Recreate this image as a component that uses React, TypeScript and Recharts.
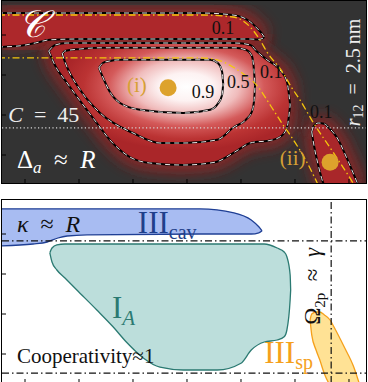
import React from "react";
import {
    ComposedChart,
    Area,
    Line,
    XAxis,
    YAxis,
    ReferenceLine,
    ReferenceDot,
} from "recharts";

const serif = "'Liberation Serif', 'DejaVu Serif', serif";

const xTicks = [0, 1, 2, 3, 4, 5, 6];
const yTicks = [0, 1, 2, 3];
const xDomain: [number, number] = [-0.426, 6.315];
const topDomain: [number, number] = [-0.7, 3.85];
const bottomDomain: [number, number] = [-0.725, 3.85];

// top panel: contour regions as [x, lower, upper]
const stripC = [
    [-0.5, 2.7, 3.55],
    [-0.09, 2.73, 3.55],
    [0.19, 2.8, 3.55],
    [0.46, 2.88, 3.55],
    [1.02, 2.9, 3.55],
    [3.24, 2.9, 3.55],
    [3.85, 2.9, 3.5],
    [4.17, 2.9, 3.33],
    [4.31, 2.89, 3.15],
    [4.39, 2.91, 3.03],
    [4.43, 2.95, 2.95],
];
const blob01 = [
    [0.44, 2.6, 2.6],
    [0.56, 2.23, 2.75],
    [0.78, 1.8, 2.8],
    [1.33, 0.8, 2.8],
    [1.57, 0.38, 2.8],
    [1.94, -0.05, 2.8],
    [2.31, -0.2, 2.8],
    [2.93, -0.25, 2.8],
    [3.52, -0.18, 2.8],
    [3.89, 0.08, 2.8],
    [4.17, 0.3, 2.75],
    [4.3, 0.33, 2.58],
    [4.48, 0.35, 2.38],
    [4.72, 0.45, 2.13],
    [4.85, 0.68, 1.83],
    [4.89, 1.0, 1.5],
    [4.91, 1.25, 1.25],
];
const blob05 = [
    [0.69, 2.53, 2.53],
    [0.74, 2.33, 2.6],
    [1.02, 1.63, 2.65],
    [1.39, 1.05, 2.68],
    [2.0, 0.55, 2.68],
    [2.5, 0.3, 2.68],
    [2.94, 0.3, 2.68],
    [3.56, 0.38, 2.68],
    [3.87, 0.7, 2.68],
    [4.09, 0.88, 2.63],
    [4.2, 1.08, 2.48],
    [4.24, 1.33, 2.13],
    [4.26, 1.73, 1.73],
];
const blob09 = [
    [1.37, 2.18, 2.18],
    [1.44, 1.95, 2.3],
    [1.57, 1.58, 2.35],
    [1.76, 1.3, 2.38],
    [2.13, 1.13, 2.38],
    [2.93, 1.05, 2.38],
    [3.43, 1.13, 2.38],
    [3.57, 1.28, 2.3],
    [3.65, 1.5, 2.08],
    [3.67, 1.78, 1.78],
];
const blobRight = [
    [5.31, 0.58, 0.58],
    [5.35, 0.25, 0.73],
    [5.43, -0.25, 0.8],
    [5.54, -0.75, 0.78],
    [5.65, -0.88, 0.65],
    [5.78, -0.88, 0.43],
    [5.96, -0.88, -0.08],
    [6.07, -0.88, -0.43],
    [6.17, -0.88, -0.75],
];
// yellow dash-dot guides [x, y]
const guideOuter = [
    [-0.5, 3.5], [3.24, 3.5], [3.85, 3.45], [4.17, 3.2], [4.35, 2.88], [4.48, 2.58],
    [4.78, 2.05], [4.94, 1.68], [5.09, 1.38], [5.33, 0.83], [5.7, 0.08], [6.02, -0.58], [6.13, -0.83],
];
const guideInner = [
    [-0.5, 2.43], [3.24, 2.43], [3.56, 2.38], [3.85, 2.2], [4.04, 2.03], [4.3, 1.73],
    [4.54, 1.25], [4.78, 0.75], [4.91, 0.5], [5.22, -0.18], [5.43, -0.75],
];
const dottedLevel = 0.68;

const contourLabels = [
    { x: 3.46, y: 3.03, t: "0.1" },
    { x: 3.09, y: 1.43, t: "0.9" },
    { x: 3.74, y: 1.68, t: "0.5" },
    { x: 4.35, y: 1.93, t: "0.1" },
    { x: 5.28, y: 0.93, t: "0.1" },
];
const markers = [
    { x: 2.65, y: 1.68, tag: "(i)", tx: 1.89, ty: 1.58 },
    { x: 5.65, y: -0.18, tag: "(ii)", tx: 4.72, ty: -0.25 },
];

// bottom panel: regions as [x, lower, upper]
const regionCav = [
    [-0.5, 2.7, 3.63],
    [0.15, 2.75, 3.63],
    [0.41, 2.8, 3.63],
    [0.61, 2.9, 3.63],
    [0.78, 2.95, 3.63],
    [1.15, 2.98, 3.63],
    [3.24, 3.0, 3.63],
    [3.87, 3.0, 3.53],
    [4.19, 3.0, 3.35],
    [4.33, 3.03, 3.18],
    [4.39, 3.08, 3.08],
];
const regionA = [
    [0.46, 2.53, 2.53],
    [0.5, 2.3, 2.65],
    [0.59, 2.1, 2.73],
    [0.74, 1.9, 2.75],
    [0.96, 1.6, 2.75],
    [1.33, 1.1, 2.75],
    [1.63, 0.68, 2.75],
    [1.89, 0.28, 2.75],
    [2.19, -0.1, 2.75],
    [2.5, -0.33, 2.75],
    [2.93, -0.4, 2.75],
    [3.56, -0.4, 2.75],
    [4.0, -0.23, 2.75],
    [4.19, 0.1, 2.75],
    [4.43, 0.3, 2.75],
    [4.67, 0.35, 2.65],
    [4.8, 0.43, 2.55],
    [4.85, 0.6, 2.43],
    [4.91, 1.35, 1.98],
    [4.92, 1.6, 1.6],
];
const regionSp = [
    [5.28, 0.85, 0.85],
    [5.31, 0.48, 1.0],
    [5.39, 0.1, 1.05],
    [5.46, -0.15, 1.05],
    [5.54, -0.48, 0.98],
    [5.65, -0.78, 0.85],
    [5.72, -0.9, 0.68],
    [5.91, -0.9, 0.18],
    [6.09, -0.9, -0.33],
    [6.2, -0.9, -0.78],
];
const cavLimit = 2.83;
const coopLimit = -0.48;
const omegaLimit = 5.67;

// text anchors (baseline start) in data units
const topText = {
    cal: [-0.13, 2.95],
    coupling: [-0.31, 0.83],
    detuning: [-0.15, -0.33],
    distance: [6.2, 0.72],
};
const bottomText = {
    kappa: [-0.15, 3.05],
    cav: [2.09, 3.03],
    ia: [1.61, 0.9],
    coop: [-0.15, -0.23],
    sp: [4.43, -0.23],
    omega: [5.46, 0.73],
};

const range = (rows: number[][]) => rows.map(([x, lo, hi]) => ({ x, r: [lo, hi] }));
const curve = (rows: number[][]) => rows.map(([x, y]) => ({ x, y }));

const axes = (yDomain: [number, number]) => [
    <XAxis
        key="xa"
        type="number"
        dataKey="x"
        domain={xDomain}
        ticks={xTicks}
        interval={0}
        allowDataOverflow
        mirror
        axisLine={false}
        tickLine={{ stroke: "#000" }}
        tickSize={4}
        tickFormatter={() => ""}
    />,
    <YAxis
        key="ya"
        type="number"
        domain={yDomain}
        ticks={yTicks}
        interval={0}
        allowDataOverflow
        mirror
        axisLine={false}
        tickLine={{ stroke: "#000" }}
        tickSize={4}
        tickFormatter={() => ""}
    />,
];

const contour = (key: string, rows: number[][], fill: string) => [
    <Area
        key={key + "-f"}
        data={range(rows)}
        dataKey="r"
        type="monotone"
        fill={fill}
        fillOpacity={1}
        stroke="#000"
        strokeWidth={2}
        dot={false}
        activeDot={false}
        isAnimationActive={false}
    />,
    <Area
        key={key + "-d"}
        data={range(rows)}
        dataKey="r"
        type="monotone"
        fill="none"
        stroke="#fff"
        strokeWidth={0.9}
        strokeDasharray="5 4"
        dot={false}
        activeDot={false}
        isAnimationActive={false}
    />,
];

const glow = (key: string, rows: number[][]) => (
    <Area
        key={key}
        data={range(rows)}
        dataKey="r"
        type="monotone"
        fill="#8e2626"
        fillOpacity={0.9}
        stroke="#8e2626"
        strokeWidth={12}
        filter="url(#glow)"
        dot={false}
        activeDot={false}
        isAnimationActive={false}
    />
);

const textAt = (key: string, pos: number[], node: (cx: number, cy: number) => React.ReactNode) => (
    <ReferenceDot
        key={key}
        x={pos[0]}
        y={pos[1]}
        r={0}
        ifOverflow="visible"
        shape={(p: any) => <g>{node(p.cx, p.cy)}</g>}
    />
);

function TopPanel() {
    return (
        <ComposedChart width={368} height={184} margin={{ top: 1, right: 2, bottom: 1, left: 2 }}>
            <defs>
                <filter id="glow" x="-30%" y="-30%" width="160%" height="160%">
                    <feGaussianBlur stdDeviation="8" />
                </filter>
                <radialGradient id="blobGrad" cx="0.57" cy="0.36" r="0.52">
                    <stop offset="0" stopColor="#ffffff" />
                    <stop offset="0.22" stopColor="#fdf2f2" />
                    <stop offset="0.42" stopColor="#f0bcbc" />
                    <stop offset="0.62" stopColor="#d45a5a" />
                    <stop offset="0.82" stopColor="#bb3333" />
                    <stop offset="1" stopColor="#aa2629" />
                </radialGradient>
            </defs>
            {axes(topDomain)}
            {glow("g1", stripC)}
            {glow("g2", blob01)}
            {glow("g3", blobRight)}
            {contour("strip", stripC, "#ad282b")}
            {contour("b01", blob01, "url(#blobGrad)")}
            {contour("b05", blob05, "none")}
            {contour("b09", blob09, "none")}
            {contour("right", blobRight, "#a9272a")}
            <ReferenceLine y={dottedLevel} stroke="#d8d8d8" strokeWidth={1.2} strokeDasharray="1.2 2.4" />
            <Line data={curve(guideOuter)} dataKey="y" type="monotone" stroke="#f4c60c" strokeWidth={1.3}
                strokeDasharray="7 3 1.5 3" dot={false} activeDot={false} isAnimationActive={false} />
            <Line data={curve(guideInner)} dataKey="y" type="monotone" stroke="#f4c60c" strokeWidth={1.3}
                strokeDasharray="7 3 1.5 3" dot={false} activeDot={false} isAnimationActive={false} />
            {markers.map((m, i) => (
                <ReferenceDot key={"m" + i} x={m.x} y={m.y} r={8.5} fill="#dda22c" stroke="none" ifOverflow="visible" />
            ))}
            {markers.map((m, i) =>
                textAt("t" + i, [m.tx, m.ty], (cx, cy) => (
                    <text x={cx} y={cy} fill="#d6a035" fontSize={21} fontFamily={serif}>{m.tag}</text>
                ))
            )}
            {contourLabels.map((c, i) =>
                textAt("c" + i, [c.x, c.y], (cx, cy) => (
                    <text x={cx} y={cy} fill="#111" fontSize={18} fontFamily={serif}>{c.t}</text>
                ))
            )}
            {textAt("cal", topText.cal, (cx, cy) => (
                <text x={cx} y={cy} fill="#fff" fontSize={38} fontStyle="italic" fontFamily={serif}>{"\u{1D49E}"}</text>
            ))}
            {textAt("coupling", topText.coupling, (cx, cy) => (
                <text x={cx} y={cy} fill="#eee" fontSize={22} fontFamily={serif}>
                    <tspan fontStyle="italic">C</tspan>
                    <tspan>{"\u2002=\u200245"}</tspan>
                </text>
            ))}
            {textAt("detuning", topText.detuning, (cx, cy) => (
                <text x={cx} y={cy} fill="#fff" fontSize={25} fontFamily={serif}>
                    <tspan>Δ</tspan>
                    <tspan fontStyle="italic" fontSize={17} dy={5}>a</tspan>
                    <tspan dy={-5}>{"\u2002≈\u2002"}</tspan>
                    <tspan fontStyle="italic">R</tspan>
                </text>
            ))}
            {textAt("distance", topText.distance, (cx, cy) => (
                <text x={cx} y={cy} fill="#eee" fontSize={20} fontFamily={serif} transform={`rotate(-90 ${cx} ${cy})`}>
                    <tspan fontStyle="italic">r</tspan>
                    <tspan fontSize={14} dy={3}>12</tspan>
                    <tspan dy={-3}>{"\u2002=\u20022.5\u2009nm"}</tspan>
                </text>
            ))}
        </ComposedChart>
    );
}

function BottomPanel() {
    const region = (key: string, rows: number[][], fill: string, stroke: string) => (
        <Area
            key={key}
            data={range(rows)}
            dataKey="r"
            type="monotone"
            fill={fill}
            fillOpacity={1}
            stroke={stroke}
            strokeWidth={1.3}
            dot={false}
            activeDot={false}
            isAnimationActive={false}
        />
    );
    const dashDot = { stroke: "#111", strokeWidth: 1.2, strokeDasharray: "7 3 1.5 3" };
    return (
        <ComposedChart width={368} height={190} margin={{ top: 1, right: 2, bottom: 6, left: 2 }}>
            {axes(bottomDomain)}
            {region("cav", regionCav, "#a8bcf2", "#1f3f94")}
            {region("ia", regionA, "#bcdedb", "#2b7a72")}
            {region("sp", regionSp, "#ffe295", "#f5a01c")}
            <ReferenceLine y={cavLimit} {...dashDot} />
            <ReferenceLine y={coopLimit} {...dashDot} />
            <ReferenceLine x={omegaLimit} {...dashDot} />
            {textAt("kappa", bottomText.kappa, (cx, cy) => (
                <text x={cx} y={cy} fill="#111" fontSize={24} fontFamily={serif}>
                    <tspan fontStyle="italic">κ</tspan>
                    <tspan>{"\u2002≈\u2002"}</tspan>
                    <tspan fontStyle="italic">R</tspan>
                </text>
            ))}
            {textAt("cav", bottomText.cav, (cx, cy) => (
                <text x={cx} y={cy} fill="#1f3f8a" fontSize={31} fontFamily={serif}>
                    <tspan>III</tspan>
                    <tspan fontSize={20} dy={6}>cav</tspan>
                </text>
            ))}
            {textAt("ia", bottomText.ia, (cx, cy) => (
                <text x={cx} y={cy} fill="#2b7a72" fontSize={31} fontFamily={serif}>
                    <tspan>I</tspan>
                    <tspan fontSize={21} fontStyle="italic" dy={7}>A</tspan>
                </text>
            ))}
            {textAt("coop", bottomText.coop, (cx, cy) => (
                <text x={cx} y={cy} fill="#111" fontSize={21} fontFamily={serif}>Cooperativity≈1</text>
            ))}
            {textAt("sp", bottomText.sp, (cx, cy) => (
                <text x={cx} y={cy} fill="#f5a01c" fontSize={31} fontFamily={serif}>
                    <tspan>III</tspan>
                    <tspan fontSize={20} dy={6}>sp</tspan>
                </text>
            ))}
            {textAt("omega", bottomText.omega, (cx, cy) => (
                <text x={cx} y={cy} fill="#111" fontSize={23} fontFamily={serif} transform={`rotate(-90 ${cx} ${cy})`}>
                    <tspan>Ω</tspan>
                    <tspan fontSize={15} dy={5}>2p</tspan>
                    <tspan dy={-5}>{"\u2002≈\u2002"}</tspan>
                    <tspan fontStyle="italic">γ</tspan>
                </text>
            ))}
        </ComposedChart>
    );
}

export default function App() {
    return (
        <div style={{ position: "absolute", left: 0, top: 0, width: 368, height: 382, overflow: "hidden", background: "#fff" }}>
            <div style={{ position: "absolute", left: 2, top: 1, width: 364, height: 182, background: "#333" }} />
            <div style={{ position: "absolute", left: 0, top: 0 }}>
                <TopPanel />
            </div>
            <div style={{ position: "absolute", left: 0, top: 199 }}>
                <BottomPanel />
            </div>
            <div style={{ position: "absolute", left: 1, top: 0, width: 366, height: 184, boxSizing: "border-box", border: "1px solid #000" }} />
            <div style={{ position: "absolute", left: 1, top: 199, width: 366, height: 185, boxSizing: "border-box", border: "1px solid #000" }} />
        </div>
    );
}
